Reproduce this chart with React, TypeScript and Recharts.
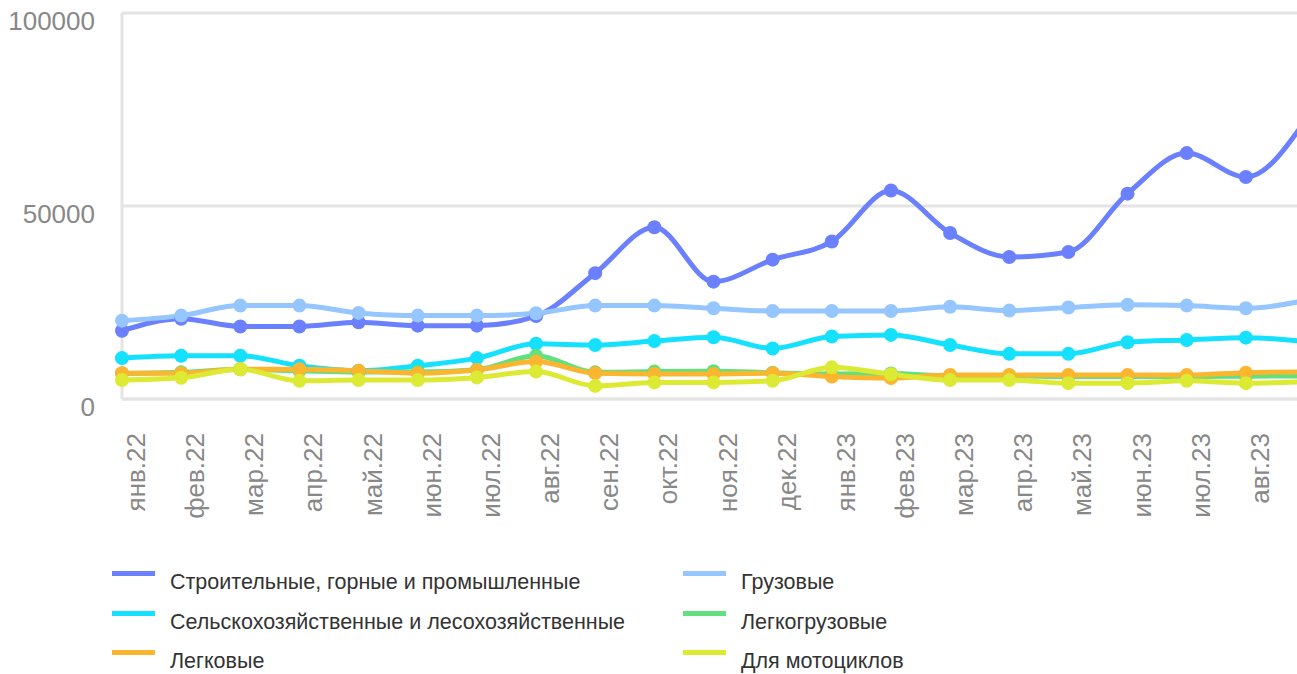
import React from 'react';
import { LineChart, Line, XAxis, YAxis, CartesianGrid } from 'recharts';

const months = [
  'янв.22', 'фев.22', 'мар.22', 'апр.22', 'май.22', 'июн.22', 'июл.22',
  'авг.22', 'сен.22', 'окт.22', 'ноя.22', 'дек.22', 'янв.23', 'фев.23',
  'мар.23', 'апр.23', 'май.23', 'июн.23', 'июл.23', 'авг.23', 'сен.23',
];

const construction = [17700, 20800, 18800, 18800, 19900, 19000, 19000, 21500, 32600, 44500, 30400, 36100, 40800, 54000, 43000, 36800, 38100, 53200, 63700, 57500, 72000];
const trucks = [20300, 21600, 24200, 24200, 22300, 21600, 21600, 22200, 24200, 24200, 23500, 22800, 22800, 22800, 23900, 22900, 23700, 24400, 24200, 23500, 25500];
const agro = [10600, 11200, 11200, 8600, 7300, 8600, 10600, 14300, 14000, 15000, 16000, 13100, 16200, 16600, 14000, 11700, 11700, 14700, 15300, 15900, 14900];
const lightTrucks = [6600, 6900, 7700, 7300, 7000, 7000, 7600, 11200, 6900, 7100, 7200, 6800, 6500, 6600, 6000, 6000, 5800, 5800, 5800, 5900, 6000];
const cars = [6700, 6700, 7700, 7700, 7300, 6700, 7500, 9700, 6700, 6500, 6500, 6700, 5800, 5400, 6200, 6200, 6200, 6200, 6200, 6800, 7000];
const moto = [4900, 5500, 7700, 4700, 4900, 4900, 5600, 7100, 3400, 4300, 4300, 4700, 8200, 6400, 4900, 4900, 4100, 4100, 4700, 4100, 4500];

const yTicks = [0, 50000, 100000];

const series = [
  { key: 'construction', name: 'Строительные, горные и промышленные', color: '#6b80ff', values: construction },
  { key: 'trucks', name: 'Грузовые', color: '#96c6ff', values: trucks },
  { key: 'agro', name: 'Сельскохозяйственные и лесохозяйственные', color: '#15e1fe', values: agro },
  { key: 'lightTrucks', name: 'Легкогрузовые', color: '#60e07f', values: lightTrucks },
  { key: 'cars', name: 'Легковые', color: '#fbb52f', values: cars },
  { key: 'moto', name: 'Для мотоциклов', color: '#dcea34', values: moto },
];

const data = months.map((month, i) => {
  const row: Record<string, string | number> = { month };
  series.forEach((s) => {
    row[s.key] = s.values[i];
  });
  return row;
});

const FONT = '"Liberation Sans", Arial, Helvetica, sans-serif';
const GRID = '#e4e4e4';
const VIEW_W = 1297;

function XTick(props: any) {
  const { x, y, payload } = props;
  // the last month sits past the visible edge, like in the original crop
  if (x > VIEW_W - 10) return null;
  return (
    <g transform={`translate(${x},${y})`}>
      <text
        x={-34}
        y={23}
        transform="rotate(-90)"
        textAnchor="end"
        fill="#888"
        fontSize={26}
        fontFamily={FONT}
      >
        {payload.value}
      </text>
    </g>
  );
}

function YTick(props: any) {
  const { x, y, payload } = props;
  return (
    <text x={x - 27} y={y + 17} textAnchor="end" fill="#888" fontSize={26} fontFamily={FONT}>
      {payload.value}
    </text>
  );
}

export default function App() {
  return (
    <div
      style={{
        position: 'absolute',
        left: 0,
        top: 0,
        width: VIEW_W,
        height: 674,
        overflow: 'hidden',
        background: '#fff',
        fontFamily: FONT,
      }}
    >
      <LineChart width={1305} height={529} data={data} margin={{ top: 13, right: 0, bottom: 0, left: 0 }}>
        <CartesianGrid vertical={false} stroke={GRID} strokeWidth={3} />
        <XAxis
          dataKey="month"
          scale="point"
          interval={0}
          height={130}
          tickLine={false}
          tickSize={0}
          tickMargin={0}
          axisLine={{ stroke: GRID, strokeWidth: 3 }}
          tick={<XTick />}
          padding={{ left: 0, right: 0 }}
        />
        <YAxis
          width={122}
          domain={[0, 100000]}
          ticks={yTicks}
          interval={0}
          tickLine={false}
          tickSize={0}
          tickMargin={0}
          axisLine={{ stroke: GRID, strokeWidth: 3 }}
          tick={<YTick />}
        />
        {series.map((s) => (
          <Line
            key={s.key}
            type="monotone"
            dataKey={s.key}
            name={s.name}
            stroke={s.color}
            strokeWidth={5}
            dot={{ r: 7, fill: s.color, stroke: s.color, strokeWidth: 0 }}
            activeDot={false}
            isAnimationActive={false}
          />
        ))}
      </LineChart>

      {/* legend, two columns, row-major order */}
      {series.map((s, i) => {
        const col = i % 2;
        const row = Math.floor(i / 2);
        return (
          <div
            key={s.key}
            style={{
              position: 'absolute',
              left: col === 0 ? 112 : 683,
              top: 571 + row * 39.5,
              height: 22,
              width: 560,
            }}
          >
            <div style={{ position: 'absolute', left: 0, top: 0, width: 43, height: 5, background: s.color }} />
            <div
              style={{
                position: 'absolute',
                left: 58,
                top: 1,
                fontSize: 21.5,
                lineHeight: '20px',
                color: '#333',
                whiteSpace: 'nowrap',
              }}
            >
              {s.name}
            </div>
          </div>
        );
      })}
    </div>
  );
}
